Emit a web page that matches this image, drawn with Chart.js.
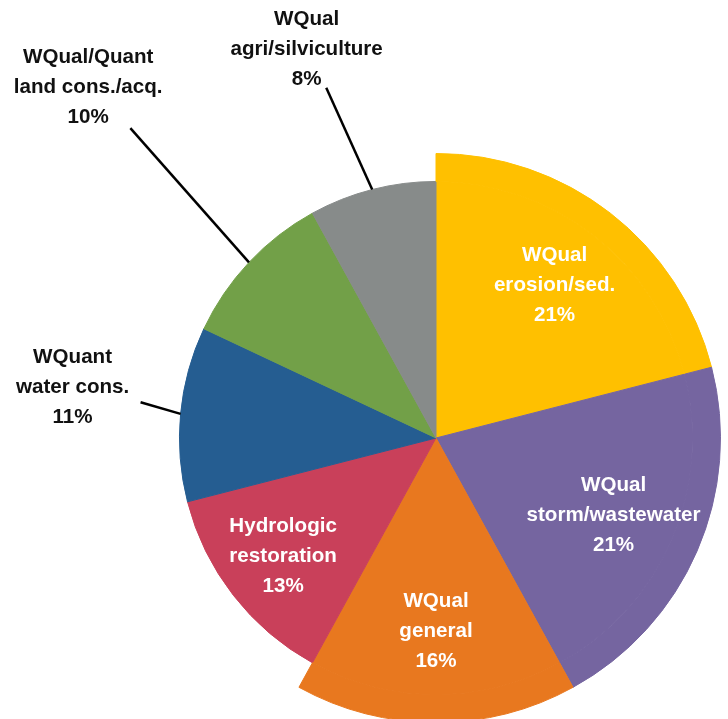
<!DOCTYPE html>
<html>
<head>
<meta charset="utf-8">
<script src="https://cdn.jsdelivr.net/npm/chart.js@4/dist/chart.umd.min.js"></script>
<style>
  html, body { margin: 0; padding: 0; background: #fff; overflow: hidden; }
  #wrap { position: relative; width: 728px; height: 723px; }
</style>
</head>
<body>
<div id="wrap"><canvas id="pie"></canvas></div>
<script>
// slices, clockwise from 12 o'clock
const categories = [
    ['WQual', 'erosion/sed.'],
    ['WQual', 'storm/wastewater'],
    ['WQual', 'general'],
    ['Hydrologic', 'restoration'],
    ['WQuant', 'water cons.'],
    ['WQual/Quant', 'land cons./acq.'],
    ['WQual', 'agri/silviculture']
];
const shares = [21, 21, 16, 13, 11, 10, 8];
// the three first slices stick out a bit further than the rest
const raised = [true, true, true, false, false, false, false];
const colors = ['#FFC000', '#7565A0', '#E8781F', '#C9405A', '#255D91', '#72A048', '#878B8A'];

// where each label goes (r is a fraction of the big radius, dA in degrees)
const placement = [
    { inside: true, r: 0.68 },
    { inside: true, r: 0.68 },
    { inside: true, r: 0.68 },
    { inside: true, r: 0.68 },
    { r: 1.29, dA: 2.6, lineR: 1.046, lineDA: 1.5 },
    { r: 1.735, dA: 2, lineR: 1.53, lineDA: 2.2 },
    { r: 1.44, dA: -4, lineR: 1.29, lineDA: -3 }
];

const FONT = 'bold 20.6px "Liberation Sans", Arial, sans-serif';
const LINE_H = 30;

const sliceLabels = {
    id: 'sliceLabels',
    afterDatasetsDraw(chart) {
        const ctx = chart.ctx;
        const outer = chart.getDatasetMeta(0).data;
        const inner = chart.getDatasetMeta(1).data;
        const R = outer[0].outerRadius;
        const cx = inner[0].x, cy = inner[0].y;
        const pt = (a, r) => ({ x: cx + r * Math.cos(a), y: cy + r * Math.sin(a) });
        const rad = d => d * Math.PI / 180;

        ctx.save();
        ctx.font = FONT;
        ctx.textAlign = 'center';
        ctx.textBaseline = 'middle';
        shares.forEach((v, i) => {
            const arc = inner[i];
            const mid = (arc.startAngle + arc.endAngle) / 2;
            const p = placement[i];
            const lines = categories[i].concat([v + '%']);
            let pos;
            if (p.inside) {
                pos = pt(mid, p.r * R);
                ctx.fillStyle = '#ffffff';
            } else {
                const edge = raised[i] ? outer[i].outerRadius : arc.outerRadius;
                const a = pt(mid, edge);
                const b = pt(mid + rad(p.lineDA), p.lineR * R);
                ctx.strokeStyle = '#000';
                ctx.lineWidth = 2.5;
                ctx.beginPath();
                ctx.moveTo(a.x, a.y);
                ctx.lineTo(b.x, b.y);
                ctx.stroke();
                pos = pt(mid + rad(p.dA), p.r * R);
                ctx.fillStyle = '#111111';
            }
            const y0 = pos.y - (lines.length - 1) / 2 * LINE_H;
            lines.forEach((t, k) => ctx.fillText(t, pos.x, y0 + k * LINE_H));
        });
        ctx.restore();
    }
};

const config = {
    type: 'pie',
    data: {
        labels: categories.map(c => c.join(' ')),
        datasets: [
            {
                // outer band, only the raised slices show
                data: shares,
                backgroundColor: colors.map((c, i) => raised[i] ? c : 'rgba(0,0,0,0)'),
                borderColor: colors.map((c, i) => raised[i] ? c : 'rgba(0,0,0,0)'),
                borderWidth: 1,
                weight: 28
            },
            {
                data: shares,
                backgroundColor: colors,
                borderColor: colors,
                borderWidth: 1,
                weight: 257
            }
        ]
    },
    options: {
        responsive: true,
        maintainAspectRatio: false,
        animation: false,
        events: [],
        hoverOffset: 0,
        layout: { padding: { left: 151, right: 7, top: 153, bottom: 0 } },
        plugins: {
            legend: { display: false },
            tooltip: { enabled: false }
        }
    },
    plugins: [sliceLabels]
};

new Chart(document.getElementById('pie'), config);
</script>
</body>
</html>
